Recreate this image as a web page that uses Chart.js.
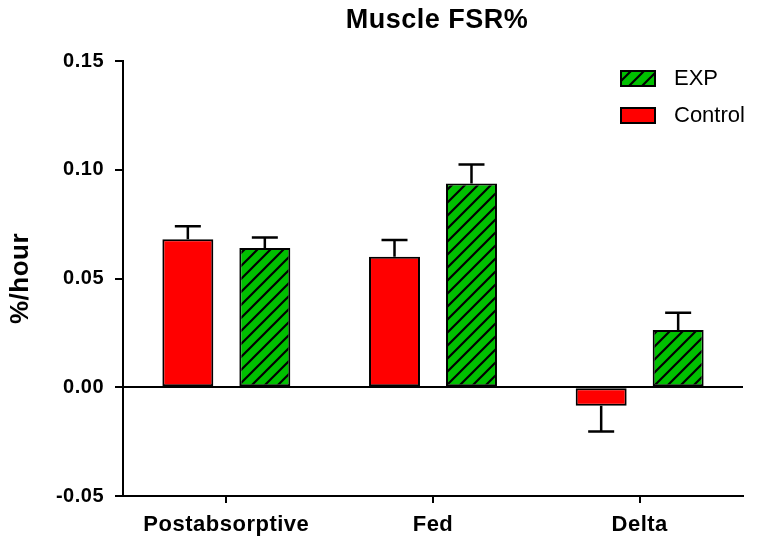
<!DOCTYPE html>
<html>
<head>
<meta charset="utf-8">
<script src="https://cdn.jsdelivr.net/npm/chart.js@4/dist/chart.umd.min.js"></script>
<style>
  html, body { margin: 0; padding: 0; background: #fff; }
  #wrap { width: 764px; height: 552px; }
</style>
</head>
<body>
<div id="wrap"><canvas id="fsr"></canvas></div>
<script>
// data
const groups = ['Postabsorptive', 'Fed', 'Delta'];
const controlVals = [0.068, 0.060, -0.0085];
const controlErr = [0.006, 0.0077, 0.0118];
const expVals = [0.064, 0.0937, 0.0263];
const expErr = [0.0048, 0.0087, 0.008];
const yTicks = [-0.05, 0.00, 0.05, 0.10, 0.15];

const RED = '#ff0000';
const GREEN = '#00c000';
const FONT = '"Liberation Sans", Arial, sans-serif';

function hatch() {
  const c = document.createElement('canvas');
  c.width = 13; c.height = 13;
  const g = c.getContext('2d');
  g.fillStyle = GREEN;
  g.fillRect(0, 0, 13, 13);
  g.strokeStyle = '#000';
  g.lineWidth = 2.2;
  g.beginPath();
  g.moveTo(-2, 15); g.lineTo(15, -2);
  g.moveTo(-2, 2); g.lineTo(2, -2);
  g.moveTo(11, 15); g.lineTo(15, 11);
  g.stroke();
  return g.createPattern(c, 'repeat');
}
const hatchFill = hatch();

// one-sided error bars, pointing away from zero
const errorBars = {
  id: 'errorBars',
  afterDatasetsDraw(chart) {
    const ctx = chart.ctx;
    const y = chart.scales.y;
    ctx.save();
    ctx.strokeStyle = '#000';
    ctx.lineWidth = 2.5;
    chart.data.datasets.forEach((ds, i) => {
      chart.getDatasetMeta(i).data.forEach((bar, j) => {
        const v = ds.data[j];
        const e = ds.errors[j];
        const y0 = y.getPixelForValue(v);
        const y1 = y.getPixelForValue(v >= 0 ? v + e : v - e);
        ctx.beginPath();
        ctx.moveTo(bar.x, y0);
        ctx.lineTo(bar.x, y1);
        ctx.moveTo(bar.x - 13, y1);
        ctx.lineTo(bar.x + 13, y1);
        ctx.stroke();
      });
    });
    ctx.restore();
  }
};

// title + legend, drawn like the Prism output
const decor = {
  id: 'decor',
  beforeDraw(chart) {
    chart.ctx.letterSpacing = '0.5px';
  },
  afterDraw(chart) {
    const ctx = chart.ctx;
    const a = chart.chartArea;
    ctx.save();
    ctx.fillStyle = '#000';
    ctx.font = 'bold 27px ' + FONT;
    ctx.textAlign = 'center';
    ctx.textBaseline = 'middle';
    ctx.fillText('Muscle FSR%', (a.left + a.right) / 2 + 4, 21);

    ctx.letterSpacing = '0px';
    ctx.font = '22px ' + FONT;
    ctx.textAlign = 'left';
    const items = [['EXP', hatchFill], ['Control', RED]];
    items.forEach((it, k) => {
      const top = 71 + k * 37;
      ctx.fillStyle = it[1];
      ctx.fillRect(621, top, 34, 15);
      ctx.strokeStyle = '#000';
      ctx.lineWidth = 2;
      ctx.strokeRect(621, top, 34, 15);
      ctx.fillStyle = '#000';
      ctx.fillText(it[0], 674, top + 8);
    });
    ctx.restore();
  }
};

new Chart(document.getElementById('fsr'), {
  type: 'bar',
  data: {
    labels: groups,
    datasets: [
      { label: 'Control', data: controlVals, errors: controlErr, backgroundColor: RED },
      { label: 'EXP', data: expVals, errors: expErr, backgroundColor: hatchFill },
    ].map(d => Object.assign(d, {
      borderColor: '#000',
      borderWidth: 2,
      borderSkipped: false,
      inflateAmount: 0,
      categoryPercentage: 0.745,
      barPercentage: 0.662,
    })),
  },
  options: {
    responsive: true,
    maintainAspectRatio: false,
    animation: false,
    layout: { padding: { left: 0, top: 61, right: 21, bottom: 0 } },
    plugins: {
      legend: { display: false },
      title: { display: false },
      tooltip: { enabled: false },
    },
    scales: {
      x: {
        afterFit: (s) => { s.height = 56; },
        border: { display: true, color: '#000', width: 2 },
        grid: { offset: false, drawOnChartArea: false, tickLength: 7, tickColor: '#000', lineWidth: 2 },
        ticks: { color: '#000', padding: 9, font: { family: FONT, size: 22, weight: 'bold' } },
      },
      y: {
        min: -0.05,
        max: 0.15,
        afterFit: (s) => { s.width = 123; },
        afterBuildTicks: (s) => { s.ticks = yTicks.map(v => ({ value: v })); },
        border: { display: true, color: '#000', width: 2 },
        grid: {
          tickLength: 8,
          tickColor: '#000',
          lineWidth: 2,
          color: (c) => (c.tick && c.tick.value === 0 ? '#000' : 'rgba(0,0,0,0)'),
        },
        ticks: {
          color: '#000',
          padding: 11,
          font: { family: FONT, size: 20, weight: 'bold' },
          callback: (v) => v.toFixed(2),
        },
        title: {
          display: true,
          text: '%/hour',
          color: '#000',
          padding: { top: 5, bottom: 0 },
          font: { family: FONT, size: 26, weight: 'bold' },
        },
      },
    },
  },
  plugins: [errorBars, decor],
});
</script>
</body>
</html>
